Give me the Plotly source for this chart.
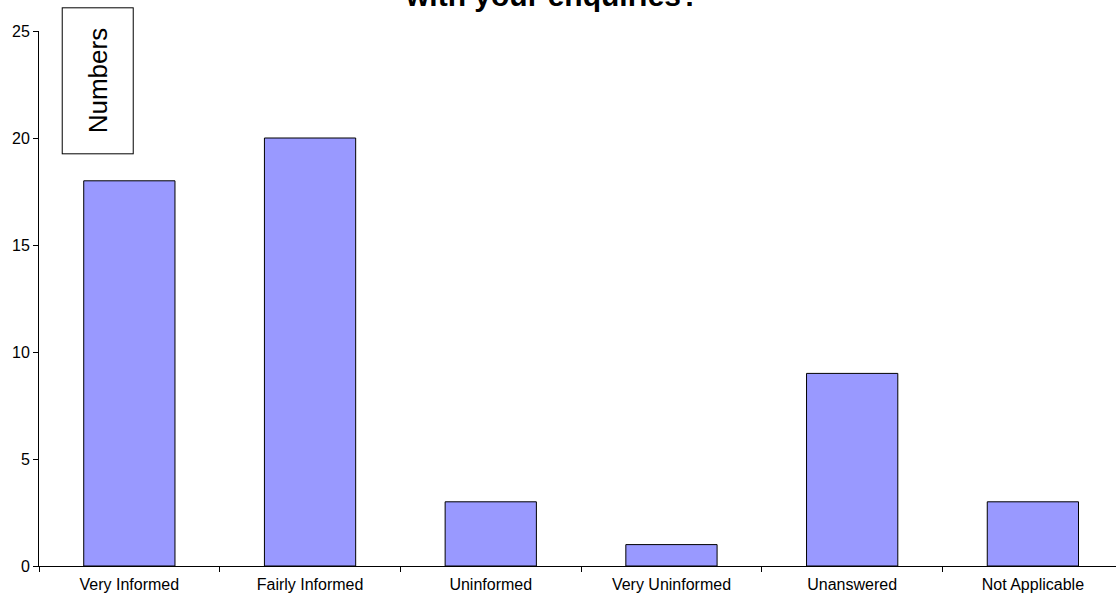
import plotly.graph_objects as go

categories = ["Very Informed", "Fairly Informed", "Uninformed",
              "Very Uninformed", "Unanswered", "Not Applicable"]
counts = [18, 20, 3, 1, 9, 3]
y_ticks = [0, 5, 10, 15, 20, 25]

FONT = "Liberation Sans, Arial, sans-serif"

fig = go.Figure()
fig.add_trace(go.Bar(
    x=categories,
    y=counts,
    marker=dict(color="#9999FF", line=dict(color="black", width=1)),
    width=0.505,
))

# 标题只露出下半部分（上方被裁掉）
fig.add_annotation(text="<b>with your enquiries?</b>", xref="paper", yref="paper",
                   x=0.476, xanchor="center", y=1.0, yanchor="bottom", yshift=17,
                   showarrow=False,
                   font=dict(family=FONT, size=30, color="black"))

# 带边框的纵轴标题
fig.add_annotation(text="Numbers", textangle=-90, xref="paper", yref="paper",
                   x=0.0548, xanchor="center", y=0.906, yanchor="middle",
                   showarrow=False,
                   bordercolor="black", borderwidth=1, bgcolor="white",
                   borderpad=20,
                   font=dict(family=FONT, size=26, color="black"))

fig.update_layout(
    width=1116, height=597,
    margin=dict(l=39, r=0, t=31, b=31),
    paper_bgcolor="white", plot_bgcolor="white",
    showlegend=False,
    font=dict(family=FONT, size=16, color="black"),
    xaxis=dict(range=[-0.5, 5.46], showline=True, linecolor="black", linewidth=1,
               ticks="outside", tickson="boundaries", ticklen=5,
               tickcolor="black", showgrid=False, ticklabelstandoff=4),
    yaxis=dict(range=[0, 25], tickvals=y_ticks, showline=True,
               linecolor="black", linewidth=1, ticks="outside", ticklen=5,
               tickcolor="black", showgrid=False, zeroline=False),
)

fig.write_html("out.html", config={"displayModeBar": False},
               post_script="document.body.style.margin='0px';")
